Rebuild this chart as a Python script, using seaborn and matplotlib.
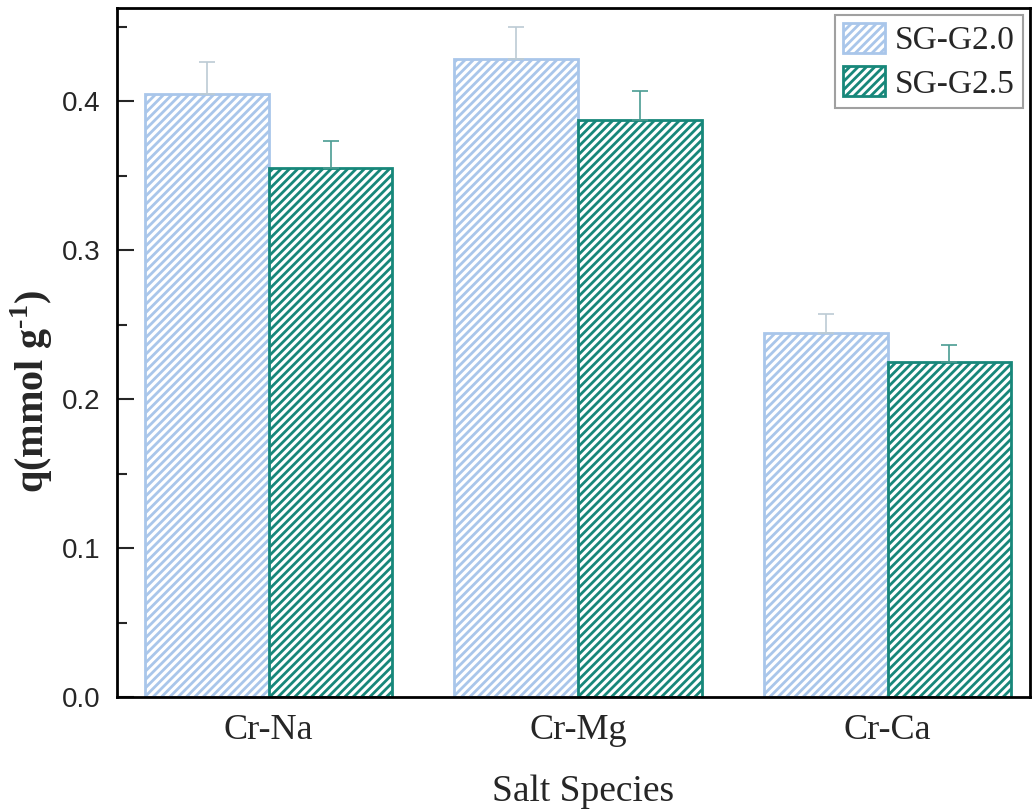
import numpy as np
import pandas as pd
import matplotlib
matplotlib.use("Agg")
import matplotlib.pyplot as plt
import seaborn as sns
from matplotlib.ticker import MultipleLocator

# data
salts = ["Cr-Na", "Cr-Mg", "Cr-Ca"]
series = ["SG-G2.0", "SG-G2.5"]
q_g20 = [0.405, 0.428, 0.244]
q_g25 = [0.355, 0.387, 0.225]
err_g20 = [0.021, 0.022, 0.013]
err_g25 = [0.018, 0.020, 0.011]

df = pd.DataFrame({
    "salt": salts * 2,
    "series": [series[0]] * 3 + [series[1]] * 3,
    "q": q_g20 + q_g25,
    "err": err_g20 + err_g25,
})

edge_colors = {"SG-G2.0": "#a9c6ea", "SG-G2.5": "#17877a"}
err_colors = {"SG-G2.0": "#bccbd4", "SG-G2.5": "#4a9c92"}

sns.set_style("ticks")
plt.rcParams["hatch.linewidth"] = 2.0
plt.rcParams["mathtext.fontset"] = "custom"
plt.rcParams["mathtext.rm"] = "Liberation Serif:bold"
plt.rcParams["mathtext.bf"] = "Liberation Serif:bold"
serif = ["Liberation Serif", "DejaVu Serif"]
sans = ["Liberation Sans", "DejaVu Sans"]

fig = plt.figure(figsize=(10.33, 8.10), dpi=100)
ax = fig.add_axes([0.1133, 0.1395, 0.8837, 0.8505])

sns.barplot(data=df, x="salt", y="q", hue="series", order=salts,
            hue_order=series, palette=["white", "white"], width=0.8,
            errorbar=None, ax=ax, legend=True)

# style bars and add upper error bars
for s, cont in zip(series, ax.containers):
    sub = df[df["series"] == s].set_index("salt").loc[salts]
    xs = []
    for bar in cont:
        bar.set_facecolor("white")
        bar.set_edgecolor(edge_colors[s])
        bar.set_hatch("////")
        bar.set_linewidth(2.0)
        xs.append(bar.get_x() + bar.get_width() / 2)
    ax.errorbar(xs, sub["q"].values, yerr=[np.zeros(3), sub["err"].values],
                fmt="none", ecolor=err_colors[s], elinewidth=1.2,
                capsize=6, capthick=1.2, zorder=1)

ax.set_ylim(0, 0.4624)
ax.set_xlim(-0.49, 2.46)
ax.yaxis.set_major_locator(MultipleLocator(0.1))
ax.yaxis.set_minor_locator(MultipleLocator(0.05))
ax.tick_params(axis="y", which="major", direction="in", length=12, width=1.5,
               pad=12)
ax.tick_params(axis="y", which="minor", direction="in", length=7, width=1.5)
ax.tick_params(axis="x", which="major", direction="in", length=0, pad=12)
for sp in ax.spines.values():
    sp.set_linewidth(2.0)
    sp.set_color("black")
    sp.set_visible(True)

for lab in ax.get_yticklabels():
    lab.set_fontfamily(sans)
    lab.set_fontsize(20)
for lab in ax.get_xticklabels():
    lab.set_fontfamily(serif)
    lab.set_fontsize(26)

ax.set_xlabel("Salt Species", fontfamily=serif, fontsize=27)
ax.xaxis.set_label_coords(0.51, -0.112)
ax.set_ylabel(r"q(mmol g$^{\text{-}1}$)", fontfamily=serif, fontsize=29,
              fontweight="bold")
ax.yaxis.set_label_coords(-0.068, 0.443)

handles, labels = ax.get_legend_handles_labels()
for h, s in zip(handles, series):
    h.set_facecolor("white")
    h.set_edgecolor(edge_colors[s])
    h.set_hatch("////")
    h.set_linewidth(2.0)
leg = ax.legend(handles, labels, loc="upper right", frameon=True,
                fancybox=False, prop={"family": serif, "size": 24},
                handlelength=1.25, handleheight=1.0, borderpad=0.25,
                labelspacing=0.3, handletextpad=0.3, borderaxespad=0.2)
leg.get_frame().set_edgecolor("#888888")
leg.get_frame().set_linewidth(1.5)

fig.savefig("out.png", dpi=100)
